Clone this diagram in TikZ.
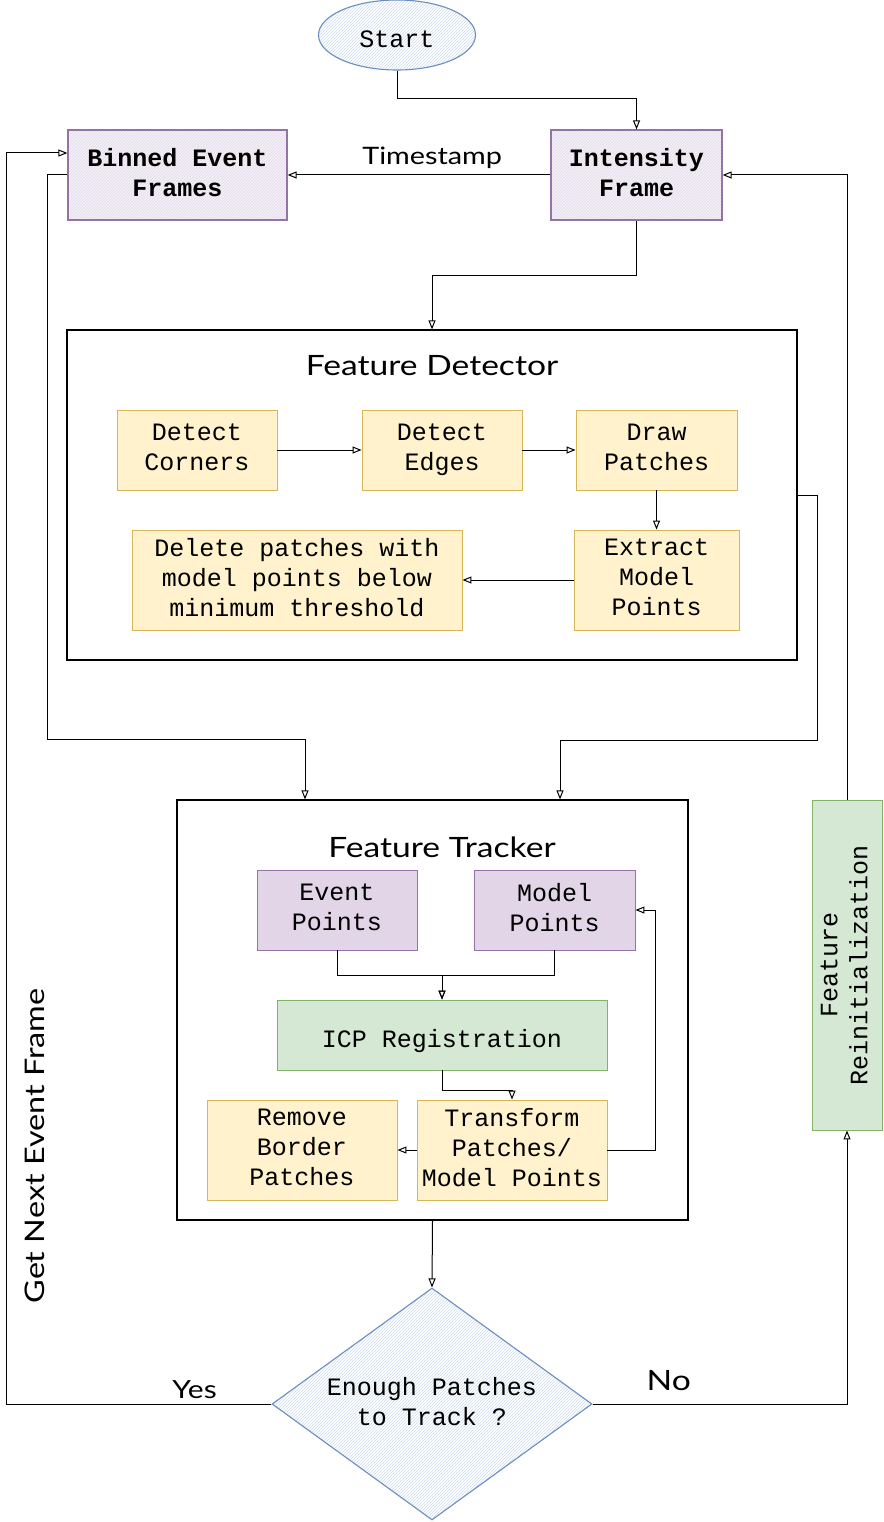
\documentclass[tikz,border=0pt]{standalone}
\usepackage{fontspec}
\setmainfont{Liberation Mono}
\newfontfamily\handfont[FakeStretch=1.2]{Lato}
\usetikzlibrary{shapes.geometric, arrows.meta, positioning, patterns, calc}

\definecolor{blueFill}{HTML}{DAE8FC}
\definecolor{blueLine}{HTML}{6C8EBF}
\definecolor{purpleFill}{HTML}{E1D5E7}
\definecolor{purpleLine}{HTML}{9673A6}
\definecolor{yellowFill}{HTML}{FFF2CC}
\definecolor{yellowLine}{HTML}{D6B656}
\definecolor{greenFill}{HTML}{D5E8D4}
\definecolor{greenLine}{HTML}{82B366}

\newcommand\boxstrut{\rule[-6pt]{0pt}{37pt}}
\newcommand\linestrut{\rule[-6pt]{0pt}{28pt}}

\tikzset{
    box/.style={draw, align=center, inner sep=0pt, line width=0.9pt, execute at begin node=\boxstrut, execute at end node=\boxstrut},
    oneline/.style={execute at begin node=\linestrut, execute at end node={}},
    yellowbox/.style={box, fill=yellowFill, draw=yellowLine},
    purplebox/.style={box, fill=purpleFill, draw=purpleLine},
    greenbox/.style={box, fill=greenFill, draw=greenLine},
    hatchpurple/.style={box, draw=purpleLine, line width=1.2pt, preaction={fill=purpleFill!35}, pattern=north east lines, pattern color=purpleFill!80!purpleLine!60},
    hatchblue/.style={box, draw=blueLine, line width=1.1pt, preaction={fill=white}, pattern=north east lines, pattern color=blueFill!70!blueLine!70},
    group/.style={draw, line width=1.2pt, inner sep=0pt},
    flow/.style={draw, line width=1pt, -{Triangle[open, length=9pt, width=7pt, line width=1pt]}},
    handlabel/.style={font=\handfont\fontsize{24}{28}\selectfont, inner sep=0pt},
}

\begin{document}
\begin{tikzpicture}[x=1pt, y=-1pt, font=\fontsize{25}{30}\selectfont]
    \useasboundingbox (0,0) rectangle (883,1522);

    % top row
    \node[hatchblue, oneline, ellipse, minimum width=157pt, minimum height=70pt] (start) at (397,35) {Start};
    \node[hatchpurple, minimum width=219pt, minimum height=90pt, font=\bfseries\fontsize{25}{30}\selectfont] (binned) at (177.5,175) {Binned Event\\Frames};
    \node[hatchpurple, minimum width=171pt, minimum height=90pt, font=\bfseries\fontsize{25}{30}\selectfont] (intensity) at (636.5,175) {Intensity\\Frame};

    % feature detector
    \node[group, minimum width=730pt, minimum height=330pt] (detector) at (432,495) {};
    \node[handlabel, font=\handfont\fontsize{28}{34}\selectfont] (detector-title) at (432,366) {Feature Detector};
    \node[yellowbox, minimum width=160pt, minimum height=80pt] (corners) at (197,450) {Detect\\Corners};
    \node[yellowbox, minimum width=160pt, minimum height=80pt] (edges) at (442,450) {Detect\\Edges};
    \node[yellowbox, minimum width=161pt, minimum height=80pt] (patches) at (656.5,450) {Draw\\Patches};
    \node[yellowbox, minimum width=165pt, minimum height=100pt] (extract) at (656.5,580) {Extract\\Model\\Points};
    \node[yellowbox, minimum width=330pt, minimum height=100pt] (delete) at (297,580) {Delete patches with\\model points below\\minimum threshold};

    % feature tracker
    \node[group, minimum width=511pt, minimum height=420pt] (tracker) at (432.5,1010) {};
    \node[handlabel, font=\handfont\fontsize{28}{34}\selectfont] (tracker-title) at (442,847) {Feature Tracker};
    \node[purplebox, minimum width=160pt, minimum height=80pt] (event-pts) at (337,910) {Event\\Points};
    \node[purplebox, minimum width=161pt, minimum height=80pt] (model-pts) at (554.5,910) {Model\\Points};
    \node[greenbox, oneline, minimum width=330pt, minimum height=70pt] (icp) at (442,1035) {ICP Registration};
    \node[yellowbox, minimum width=190pt, minimum height=100pt] (remove) at (302,1150) {Remove\\Border\\Patches};
    \node[yellowbox, minimum width=190pt, minimum height=100pt] (transform) at (512,1150) {Transform\\Patches/\\Model Points};

    % decision and reinit
    \node[hatchblue, diamond, shape aspect=1.38, minimum width=320pt, minimum height=232pt] (enough) at (432,1404) {Enough Patches\\to Track ?};
    \node[greenbox, minimum width=70pt, minimum height=330pt] (reinit) at (847,965) {};
    \node[rotate=90, align=center, execute at begin node=\boxstrut, execute at end node=\boxstrut] (reinit-text) at (reinit.center) {Feature\\Reinitialization};

    % connectors
    \draw[flow] (start.south) -- ++(0,28) -| (intensity.north);
    \draw[flow] (intensity.west) -- (binned.east) node[handlabel, pos=0.45, above=6pt] (stamp) {Timestamp};
    \draw[flow] (intensity.south) -- ++(0,55) -| (detector.north);
    \draw[flow] (corners.east) -- (edges.west);
    \draw[flow] (edges.east) -- (patches.west);
    \draw[flow] (patches.south) -- (extract.north);
    \draw[flow] (extract.west) -- (delete.east);
    \draw[flow] (detector.east) -- ++(20,0) |- ++(0,245) -| ([xshift=127.5pt]tracker.north);
    \draw[flow] (binned.west) -- ++(-20,0) |- ++(0,564) -| ([xshift=-127.5pt]tracker.north);
    \draw[flow] (event-pts.south) -- ++(0,25) -| (icp.north);
    \draw[flow] (model-pts.south) -- ++(0,25) -| (icp.north);
    \draw[flow] (icp.south) -- ++(0,20) -| (transform.north);
    \draw[flow] (transform.west) -- (remove.east);
    \draw[flow] (transform.east) -- ++(48,0) |- (model-pts.east);
    \draw[flow] (tracker.south) -- (enough.north);
    \draw[flow] (enough.west) -- ++(-265,0) node[handlabel, font=\handfont\fontsize{25}{28}\selectfont, pos=0.29, above=5pt] (yes) {Yes} |- ([yshift=22pt]binned.west);
    \draw[flow] (enough.east) -- ++(254,0) node[handlabel, font=\handfont\fontsize{28}{30}\selectfont, pos=0.3, above=13pt] (no) {No} -| (reinit.south);
    \draw[flow] (reinit.north) |- (intensity.east);

    \node[handlabel, font=\handfont\fontsize{27}{30}\selectfont, rotate=90] (next-frame) at (35,1146) {Get Next Event Frame};
\end{tikzpicture}
\end{document}
